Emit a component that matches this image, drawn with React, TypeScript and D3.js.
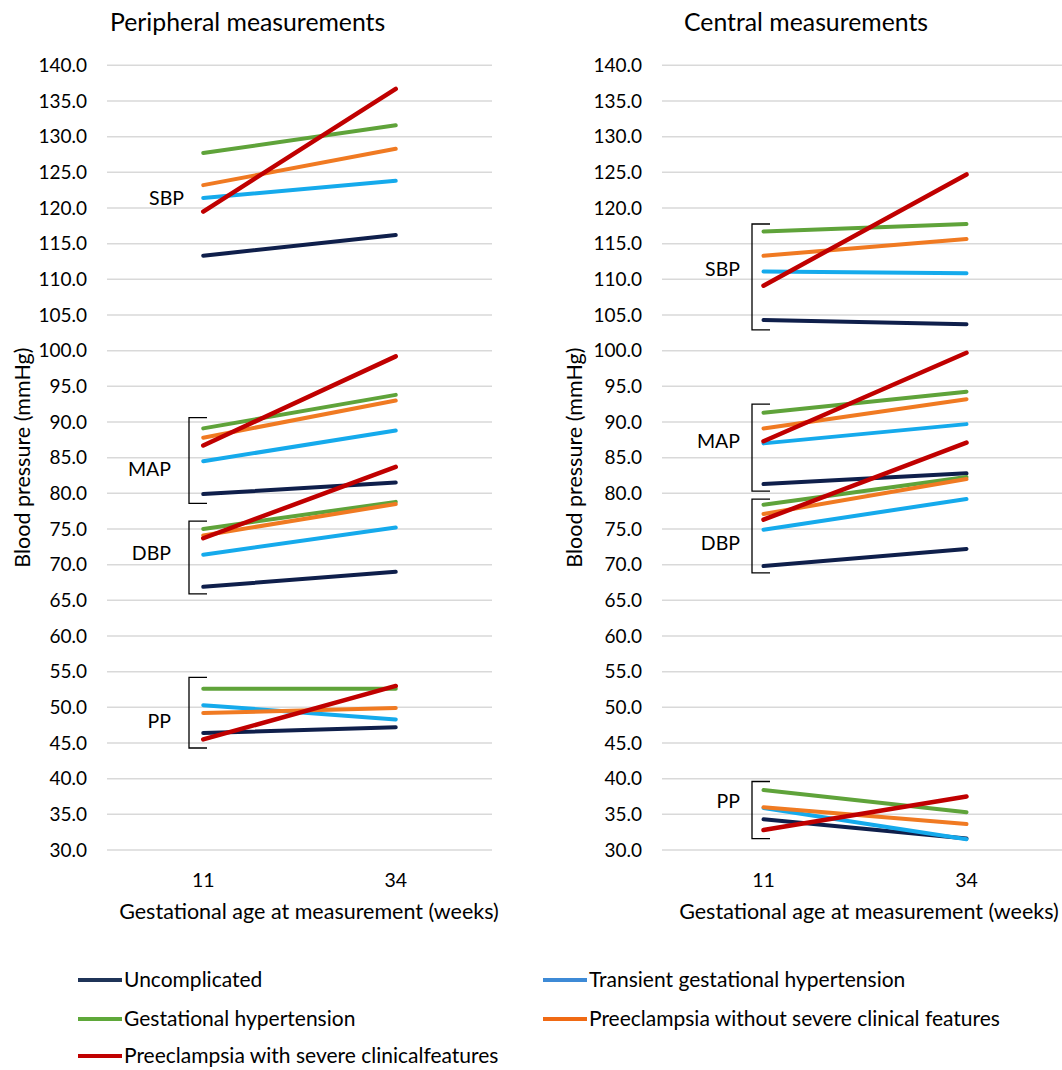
import React from "react";
import * as d3 from "d3";

// ---------- DATA ----------
const weeks = ["11", "34"];
const seriesNames = [
  "Uncomplicated",
  "Transient gestational hypertension",
  "Gestational hypertension",
  "Preeclampsia without severe clinical features",
  "Preeclampsia with severe clinicalfeatures",
];
const yTicks = d3.range(30, 141, 5);

// Peripheral: [series] -> [week11, week34]
const periphSBP = [[113.3, 116.2], [121.4, 123.8], [127.7, 131.6], [123.2, 128.3], [119.5, 136.7]];
const periphMAP = [[79.9, 81.5], [84.5, 88.8], [89.1, 93.8], [87.8, 93.0], [86.7, 99.2]];
const periphDBP = [[66.9, 69.0], [71.4, 75.2], [75.0, 78.8], [74.1, 78.5], [73.7, 83.7]];
const periphPP = [[46.4, 47.2], [50.3, 48.3], [52.6, 52.6], [49.2, 49.9], [45.5, 53.0]];

const centralSBP = [[104.3, 103.7], [111.1, 110.85], [116.7, 117.75], [113.3, 115.65], [109.1, 124.7]];
const centralMAP = [[81.3, 82.8], [87.0, 89.7], [91.3, 94.25], [89.1, 93.2], [87.3, 99.7]];
const centralDBP = [[69.8, 72.2], [74.9, 79.2], [78.4, 82.3], [77.1, 82.0], [76.3, 87.1]];
const centralPP = [[34.3, 31.6], [35.9, 31.5], [38.4, 35.3], [36.0, 33.65], [32.8, 37.5]];

// annotations: label, bracket low/high (mmHg, null = no bracket), label centre (mmHg)
const periphGroups = [
  { label: "SBP", low: null, high: null, at: 121.4 },
  { label: "MAP", low: 78.6, high: 90.6, at: 83.4 },
  { label: "DBP", low: 65.9, high: 76.1, at: 71.6 },
  { label: "PP", low: 44.3, high: 54.2, at: 48.0 },
];
const centralGroups = [
  { label: "SBP", low: 102.9, high: 117.75, at: 111.45 },
  { label: "MAP", low: 80.3, high: 92.5, at: 87.3 },
  { label: "DBP", low: 68.85, high: 79.2, at: 73.0 },
  { label: "PP", low: 31.6, high: 39.6, at: 36.9 },
];

// ---------- STYLE ----------
const lineColors = ["#0f1f4b", "#15aaec", "#5fa33a", "#f07a22", "#c00000"];
const legendColors = ["#1f3458", "#3d8ad6", "#5fa83a", "#f06a14", "#c00000"];
const FONT = "Lato, 'Open Sans', sans-serif";

const W = 1062;
const H = 1070;
const yScale = d3.scaleLinear().domain([30, 140]).range([850, 65.3]);

type Panel = {
  title: string;
  titleX: number;
  gridX0: number;
  gridX1: number;
  tickX: number;
  yLabelX: number;
  xTitleX: number;
  bracketX: number;
  labelEnd: number;
  labelEndSBP: number;
  measures: number[][][];
  groups: { label: string; low: number | null; high: number | null; at: number }[];
};

const panels: Panel[] = [
  {
    title: "Peripheral measurements",
    titleX: 110,
    gridX0: 107,
    gridX1: 492,
    tickX: 87,
    yLabelX: 22,
    xTitleX: 309,
    bracketX: 189,
    labelEnd: 171,
    labelEndSBP: 184,
    measures: [periphSBP, periphMAP, periphDBP, periphPP],
    groups: periphGroups,
  },
  {
    title: "Central measurements",
    titleX: 684,
    gridX0: 662,
    gridX1: 1068,
    tickX: 642,
    yLabelX: 574,
    xTitleX: 869,
    bracketX: 752,
    labelEnd: 740,
    labelEndSBP: 740,
    measures: [centralSBP, centralMAP, centralDBP, centralPP],
    groups: centralGroups,
  },
];

const PanelView = ({ p }: { p: Panel }) => {
  const x = d3.scaleBand<string>().domain(weeks).range([p.gridX0, p.gridX1]).padding(0);
  const cx = (w: string) => (x(w) as number) + x.bandwidth() / 2;
  const line = d3
    .line<[string, number]>()
    .x((d) => cx(d[0]))
    .y((d) => yScale(d[1]));
  const yMid = (yScale(30) + yScale(140)) / 2;
  return (
    <g>
      <text x={p.titleX} y={31} fontSize={24.8} fontFamily={FONT} fill="#000">
        {p.title}
      </text>
      {yTicks.map((t) => (
        <g key={t}>
          <line x1={p.gridX0} x2={p.gridX1} y1={yScale(t)} y2={yScale(t)} stroke="#d9d9d9" strokeWidth={1.5} />
          <text
            x={p.tickX}
            y={yScale(t)}
            dy="0.35em"
            textAnchor="end"
            fontSize={19}
            fontFamily={FONT}
            fill="#000"
          >
            {d3.format(".1f")(t)}
          </text>
        </g>
      ))}
      {weeks.map((w) => (
        <text key={w} x={cx(w)} y={887} textAnchor="middle" fontSize={19.5} fontFamily={FONT} fill="#000">
          {w}
        </text>
      ))}
      <text x={p.xTitleX} y={919} textAnchor="middle" fontSize={21.5} fontFamily={FONT} fill="#000">
        Gestational age at measurement (weeks)
      </text>
      <text
        transform={`translate(${p.yLabelX},${yMid}) rotate(-90)`}
        textAnchor="middle"
        dy="0.35em"
        fontSize={21.5}
        fontFamily={FONT}
        fill="#000"
      >
        Blood pressure (mmHg)
      </text>
      {p.groups.map((g) => (
        <g key={g.label}>
          {g.low !== null && g.high !== null && (
            <path
              d={`M${p.bracketX + 18},${yScale(g.high)} H${p.bracketX} V${yScale(g.low)} H${p.bracketX + 18}`}
              fill="none"
              stroke="#000"
              strokeWidth={1.3}
            />
          )}
          <text
            x={g.low === null ? p.labelEndSBP : p.labelEnd}
            y={yScale(g.at)}
            dy="0.35em"
            textAnchor="end"
            fontSize={19.5}
            fontFamily={FONT}
            fill="#000"
          >
            {g.label}
          </text>
        </g>
      ))}
      {p.measures.map((m, mi) => (
        <g key={mi}>
          {m.map((vals, si) => (
            <path
              key={si}
              d={line(weeks.map((w, i) => [w, vals[i]] as [string, number])) as string}
              fill="none"
              stroke={lineColors[si]}
              strokeWidth={si === 4 ? 4.5 : 4}
              strokeLinecap="round"
            />
          ))}
        </g>
      ))}
    </g>
  );
};

const legendPos = [
  { lx: 78, ty: 980 },
  { lx: 543, ty: 980 },
  { lx: 78, ty: 1019 },
  { lx: 543, ty: 1019 },
  { lx: 78, ty: 1056 },
];

export default function App() {
  return (
    <div style={{ position: "absolute", left: 0, top: 0 }}>
      <svg width={W} height={H} style={{ display: "block", background: "#fff" }}>
        <rect width={W} height={H} fill="#fff" />
        {panels.map((p) => (
          <PanelView key={p.title} p={p} />
        ))}
        {seriesNames.map((name, i) => (
          <g key={name}>
            <line
              x1={legendPos[i].lx}
              x2={legendPos[i].lx + 44}
              y1={legendPos[i].ty}
              y2={legendPos[i].ty}
              stroke={legendColors[i]}
              strokeWidth={4}
            />
            <text
              x={legendPos[i].lx + 46}
              y={legendPos[i].ty}
              dy="0.35em"
              fontSize={21}
              fontFamily={FONT}
              fill="#000"
            >
              {name}
            </text>
          </g>
        ))}
      </svg>
    </div>
  );
}
